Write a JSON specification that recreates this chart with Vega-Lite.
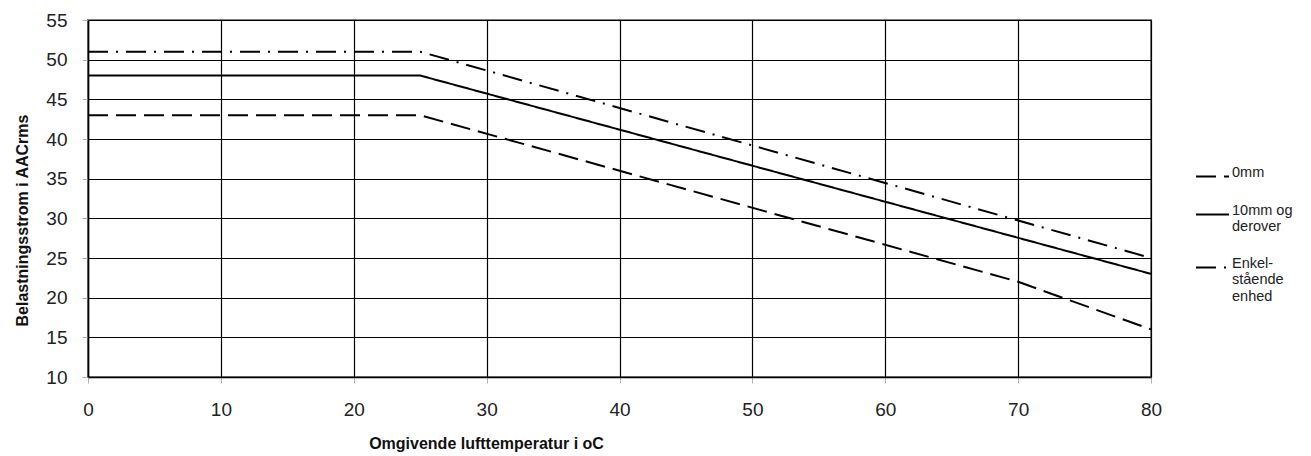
{
  "$schema": "https://vega.github.io/schema/vega-lite/v6.json",
  "autosize": "none",
  "width": 1063,
  "height": 357,
  "padding": {"left": 88, "top": 20, "right": 160, "bottom": 79},
  "background": "white",
  "config": {
    "font": "Liberation Sans",
    "view": {"stroke": "#808080", "strokeWidth": 2}
  },
  "data": {
    "values": [
      {"series": "0mm", "temp": 0, "current": 43},
      {"series": "0mm", "temp": 25, "current": 43},
      {"series": "0mm", "temp": 70, "current": 22},
      {"series": "0mm", "temp": 80, "current": 16},
      {"series": "10mm og|derover", "temp": 0, "current": 48},
      {"series": "10mm og|derover", "temp": 25, "current": 48},
      {"series": "10mm og|derover", "temp": 80, "current": 23},
      {"series": "Enkel-|stående|enhed", "temp": 0, "current": 51},
      {"series": "Enkel-|stående|enhed", "temp": 25, "current": 51},
      {"series": "Enkel-|stående|enhed", "temp": 80, "current": 25}
    ]
  },
  "mark": {"type": "line", "color": "black", "strokeWidth": 2, "clip": true},
  "encoding": {
    "x": {
      "field": "temp", "type": "quantitative",
      "scale": {"domain": [0, 80], "nice": false, "zero": false},
      "axis": {
        "values": [0, 10, 20, 30, 40, 50, 60, 70, 80],
        "title": "Omgivende lufttemperatur i oC",
        "titleFont": "Liberation Sans", "titleFontSize": 16, "titleFontWeight": "bold", "titleColor": "#111",
        "titleX": 398, "titleAlign": "center", "titlePadding": 16,
        "labelFontSize": 19, "labelColor": "#222", "labelPadding": 17,
        "labelFlush": false, "labelOverlap": false,
        "tickColor": "#b0b0b0", "tickSize": 6, "tickWidth": 1,
        "domainColor": "black", "domainWidth": 1.5,
        "gridColor": "black", "gridWidth": 1.2, "gridOpacity": 1
      }
    },
    "y": {
      "field": "current", "type": "quantitative",
      "scale": {"domain": [10, 55], "nice": false, "zero": false},
      "axis": {
        "values": [10, 15, 20, 25, 30, 35, 40, 45, 50, 55],
        "title": "Belastningsstrom i AACrms",
        "titleFont": "Liberation Sans", "titleFontSize": 16, "titleFontWeight": "bold", "titleColor": "#111",
        "titleY": 200, "titleAlign": "center", "titlePadding": 15,
        "labelFontSize": 19, "labelColor": "#222", "labelPadding": 15,
        "labelFlush": false, "labelOverlap": false,
        "tickColor": "#b0b0b0", "tickSize": 6, "tickWidth": 1,
        "domainColor": "black", "domainWidth": 1.5,
        "gridColor": "black", "gridWidth": 1.2, "gridOpacity": 1
      }
    },
    "strokeDash": {
      "field": "series", "type": "nominal",
      "scale": {
        "domain": ["0mm", "10mm og|derover", "Enkel-|stående|enhed"],
        "range": [[20, 8], [1, 0], [20, 8, 2, 8]]
      },
      "legend": {
        "title": null,
        "orient": "none",
        "legendX": 1107,
        "legendY": 139,
        "labelExpr": "split(datum.label, '|')",
        "labelFontSize": 14.5,
        "labelColor": "#222",
        "labelBaseline": "alphabetic",
        "labelLineHeight": 18,
        "labelOffset": 2,
        "labelLimit": 200,
        "symbolType": "stroke",
        "symbolSize": 1089,
        "symbolStrokeColor": "black",
        "symbolStrokeWidth": 2,
        "rowPadding": 16
      }
    }
  }
}
